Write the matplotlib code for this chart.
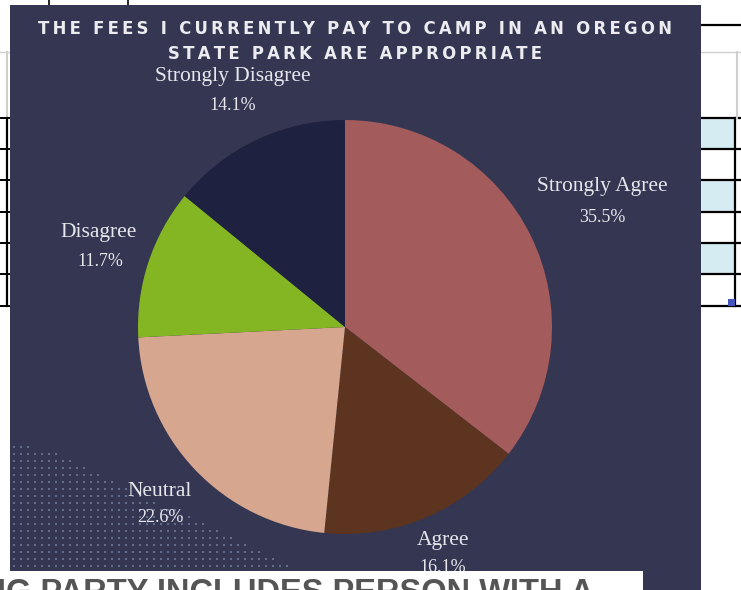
import matplotlib
matplotlib.use("Agg")
import matplotlib.pyplot as plt
from matplotlib.patches import Rectangle
import numpy as np

# ---- data ----
categories = ["Strongly Agree", "Agree", "Neutral", "Disagree", "Strongly Disagree"]
values = [35.5, 16.1, 22.6, 11.7, 14.1]
pct_labels = ["35.5%", "16.1%", "22.6%", "11.7%", "14.1%"]
colors = ["#A35B5B", "#5C3420", "#D6A78E", "#84B623", "#1E2140"]
title_lines = ["THE FEES I CURRENTLY PAY TO CAMP IN AN OREGON",
               "STATE PARK ARE APPROPRIATE"]
bottom_text = "IG PARTY INCLUDES PERSON WITH A"

W, H = 741, 590
fig = plt.figure(figsize=(W / 100, H / 100), dpi=100)
fig.patch.set_facecolor("white")

def fx(x):
    return x / W

def fy(y):
    return 1 - y / H

# background canvas in pixel coords
bg = fig.add_axes([0, 0, 1, 1])
bg.set_xlim(0, W)
bg.set_ylim(H, 0)
bg.axis("off")

# spreadsheet remnants (behind panel)
for (y0, y1) in [(118, 149), (180, 212), (243, 274)]:
    bg.add_patch(Rectangle((700, y0), 35, y1 - y0, facecolor="#D5ECF2",
                           edgecolor="none", zorder=0.5))
for y in [118, 149, 180, 212, 243, 274, 306]:
    bg.plot([695, 741], [y, y], color="black", lw=1.6, zorder=0.8)
bg.plot([735, 735], [118, 306], color="black", lw=1.6, zorder=0.8)
bg.plot([0, 741], [52, 52], color="#CFCFCF", lw=1, zorder=0.8)
bg.plot([737, 737], [52, 118], color="#CFCFCF", lw=1.5, zorder=0.8)
bg.plot([7, 7], [52, 118], color="#CFCFCF", lw=1.5, zorder=0.8)
bg.plot([695, 741], [25, 25], color="black", lw=1.6, zorder=0.8)
bg.plot([49, 49], [0, 8], color="black", lw=1.2, zorder=0.8)
bg.plot([128, 128], [0, 8], color="black", lw=1.2, zorder=0.8)
bg.add_patch(Rectangle((728, 299), 7, 7, facecolor="#4455BB", edgecolor="none", zorder=0.9))
bg.plot([7, 7], [118, 306], color="black", lw=1.6, zorder=0.8)
for y in [118, 149, 180, 212, 243, 274, 306]:
    bg.plot([0, 12], [y, y], color="black", lw=1.4, zorder=0.8)

# navy panel
bg.add_patch(Rectangle((10, 5), 691, 590, facecolor="#343652", edgecolor="none", zorder=1))

# halftone dots bottom-left
xs, ys, ss = [], [], []
for yy in np.arange(440, 572, 7):
    for xx in np.arange(14, 330, 7):
        t = (yy - 440) / 130.0
        lim = 30 + 270 * t
        if xx < lim:
            ss.append(4.0 * t * (1 - (xx - 14) / (lim + 1)) + 0.4)
            xs.append(xx)
            ys.append(yy)
bg.scatter(xs, ys, s=ss, color="#7882A2", alpha=0.7, linewidths=0, marker="s", zorder=1.5)

# title
for i, line in enumerate(title_lines):
    bg.text(355, 29 + i * 25, "\u2009".join(line), fontsize=11.9, fontweight="bold",
            color="#ECECF0", family="DejaVu Sans", ha="center", va="center", zorder=3)

# pie
cx, cy, r = 345, 327, 207
pax = fig.add_axes([fx(cx - r), fy(cy + r), (2 * r) / W, (2 * r) / H])
pax.pie(values, colors=colors, startangle=90, counterclock=False,
        wedgeprops=dict(linewidth=0))
pax.set_aspect("equal")
pax.set_xlim(-1, 1)
pax.set_ylim(-1, 1)
pax.axis("off")

# labels (layout positions in pixels: name x, y, pct x, y)
label_pos = [(602, 187, 602, 217), (443, 541, 443, 568), (160, 491, 160, 517),
             (99, 232, 100, 261), (233, 77, 233, 105)]
for cat, pl, (x1, y1, x2, y2) in zip(categories, pct_labels, label_pos):
    bg.text(x1, y1, cat, fontsize=15.5, color="#E6E6EC", family="Liberation Serif",
            ha="center", va="center", zorder=3)
    bg.text(x2, y2, pl, fontsize=13, color="#E6E6EC", family="Liberation Serif",
            ha="center", va="center", zorder=3)

# white box at bottom with cut-off heading (covers part of the Agree label)
bg.add_patch(Rectangle((0, 571), 643, 30, facecolor="white", edgecolor="none", zorder=4))
bg.text(-3, 578, bottom_text, fontsize=23.5, fontweight="bold", color="#555555",
        family="Liberation Sans", ha="left", va="top", zorder=5)

fig.savefig("out.png", dpi=100, facecolor="white")
